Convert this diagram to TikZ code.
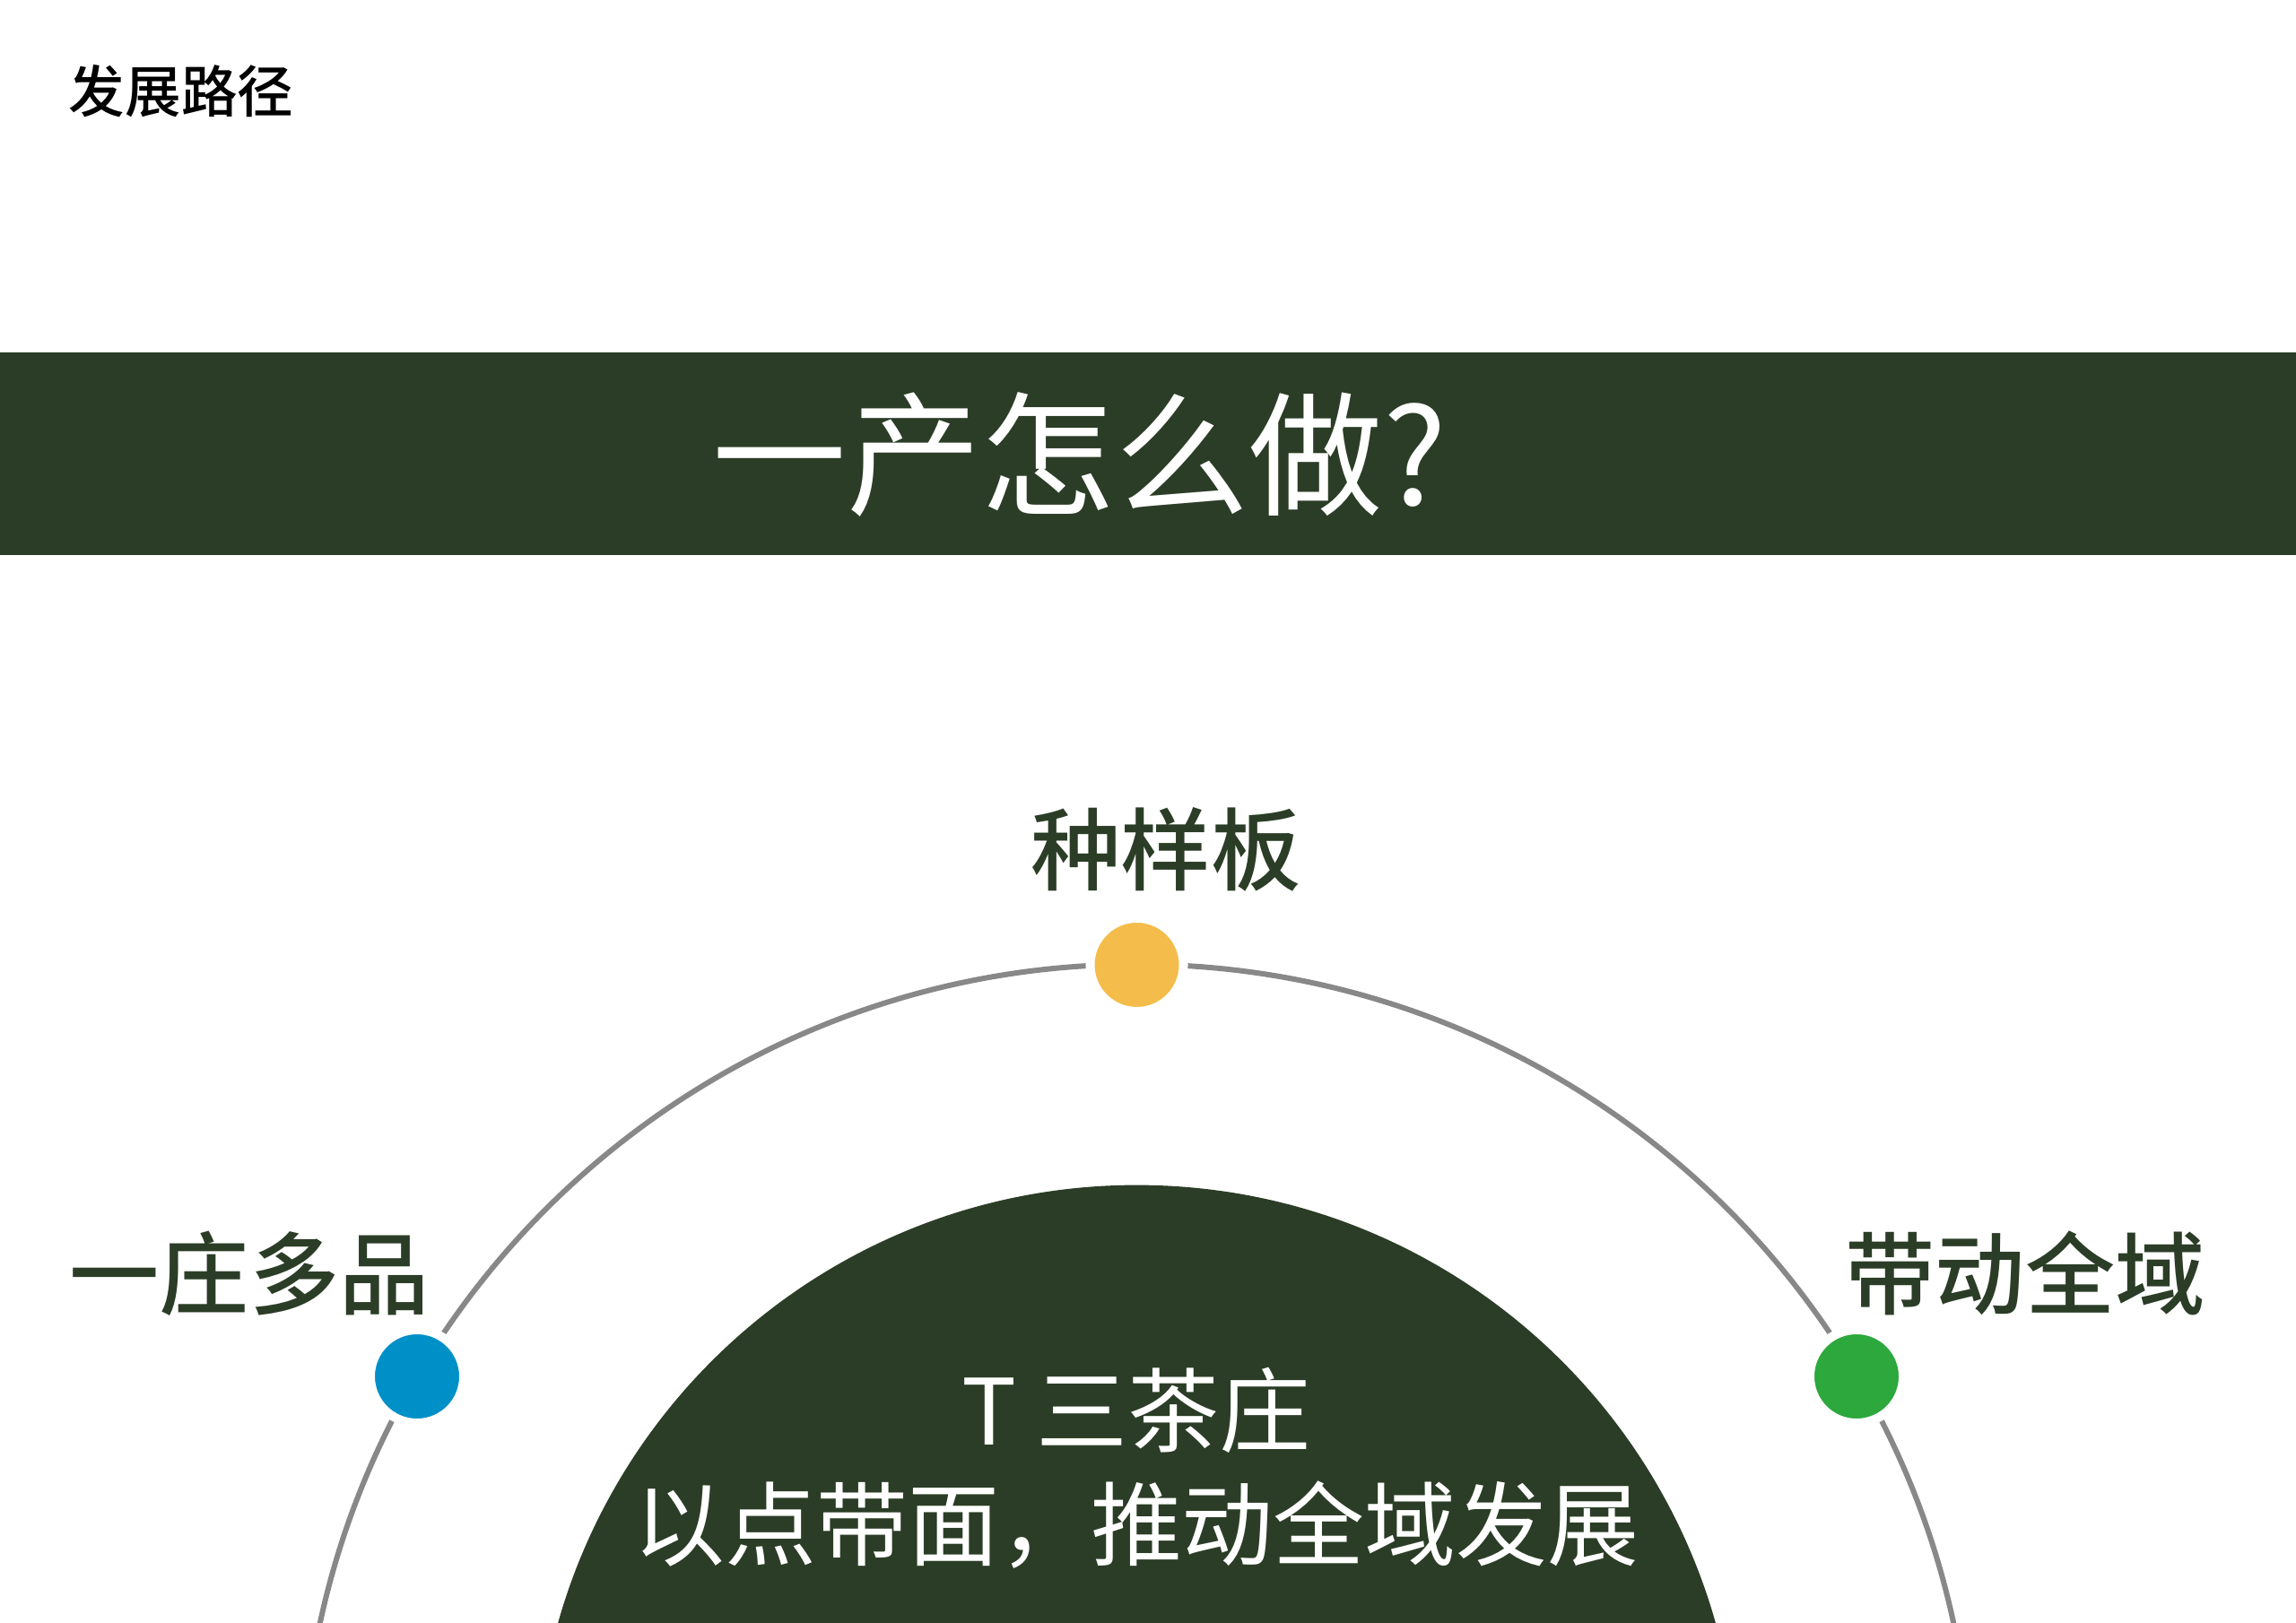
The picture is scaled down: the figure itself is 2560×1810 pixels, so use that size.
\documentclass[tikz,border=0pt]{standalone}
\usepackage{fontspec}
\setmainfont{Noto Sans CJK SC}
\newfontfamily\midfont{Noto Sans CJK SC Medium}
\usetikzlibrary{positioning}
\definecolor{teagreen}{HTML}{2B3D26}
\definecolor{dotyellow}{HTML}{F4BC4A}
\definecolor{dotblue}{HTML}{0090C8}
\definecolor{dotgreen}{HTML}{2CA83C}
\definecolor{ringgray}{HTML}{888888}
\tikzset{
  dot/.style={circle, minimum size=1.04cm, inner sep=0pt, draw=white, line width=0.1cm},
  stage/.style={text=teagreen, font=\midfont\fontsize{28.5}{34}\selectfont, inner sep=0pt},
}

\begin{document}
\begin{tikzpicture}[x=0.01cm, y=-0.01cm]
\useasboundingbox (0,0) rectangle (2560,1810);
\clip (0,0) rectangle (2560,1810);

% Header
\node (heading) [font=\midfont\fontsize{17.8}{20}\selectfont, inner sep=0pt] at (202,102) {发展路径};

% Title band
\node (band) [fill=teagreen, minimum width=25.6cm, minimum height=2.26cm, inner sep=0pt] at (1280,506) {};
\node (question) [text=white, font=\fontsize{42.5}{48}\selectfont, inner sep=0pt] at (1204,507) {一产怎么做?};

% Rings
\draw [ringgray, line width=0.06cm] (1267.5,2007) circle[radius=9.31cm];
\fill [teagreen] (1267.5,1992) circle[radius=6.7cm];

% Core text
\node (core) [text=white, align=center, font=\fontsize{29}{36}\selectfont, inner sep=0pt] at (1267,1637) {T 三茶庄\\以点带面，推动全域发展};

% Stages on the ring
\node (left)  [dot, fill=dotblue]   at (465,1535) {};
\node (top)   [dot, fill=dotyellow] at (1267.5,1076) {};
\node (right) [dot, fill=dotgreen]  at (2070,1535) {};

\node (leftlabel)  [stage] at (278,1420)  {一庄多品};
\node (toplabel)   [stage] at (1300,947)  {种样板};
\node (rightlabel) [stage] at (2258,1420) {带动全域};

\end{tikzpicture}
\end{document}
